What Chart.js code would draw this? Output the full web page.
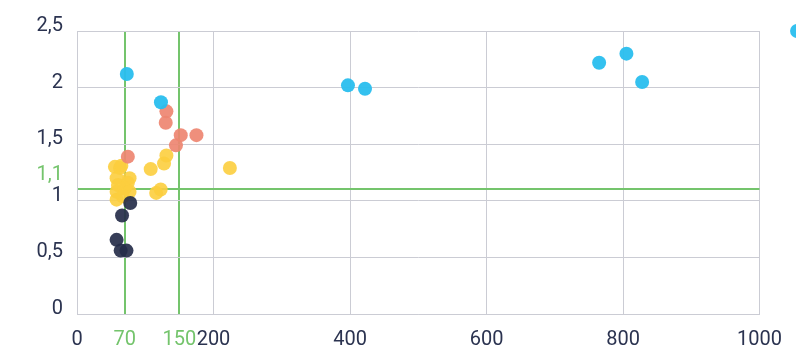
<!DOCTYPE html>
<html>
<head>
<meta charset="utf-8">
<script src="https://cdn.jsdelivr.net/npm/chart.js@4/dist/chart.umd.min.js"></script>
<style>
  html, body { margin: 0; padding: 0; background: #fff; }
  #wrap { width: 796px; height: 350px; }
</style>
</head>
<body>
<div id="wrap"><canvas id="chart"></canvas></div>
<script>
// data
const blueX = [73, 123, 397, 422, 765, 805, 828, 1055];
const blueY = [2.12, 1.87, 2.02, 1.99, 2.22, 2.30, 2.05, 2.5];
const salmonX = [131, 130, 152, 175, 145, 74.5];
const salmonY = [1.79, 1.69, 1.58, 1.58, 1.49, 1.39];
const yellowX = [224, 131, 127.5, 108, 122.6, 116, 55.5, 63, 65, 58, 77, 60, 74.5, 58, 70, 77, 58, 67];
const yellowY = [1.29, 1.40, 1.33, 1.28, 1.10, 1.07, 1.30, 1.29, 1.31, 1.20, 1.20, 1.14, 1.16, 1.08, 1.11, 1.08, 1.01, 1.04];
const navyX = [78, 66, 58, 64, 72.5];
const navyY = [0.98, 0.87, 0.655, 0.56, 0.56];

// ticks, the green ones are the thresholds
const xTickValues = [0, 70, 150, 200, 400, 600, 800, 1000];
const yTickValues = [0, 0.5, 1, 1.1, 1.5, 2, 2.5];
const greenX = [70, 150];
const greenY = [1.1];

const NAVY_TEXT = '#2b3350';
const GREEN = '#74c46c';
const GRID = '#cbccd4';
const FONT = { family: 'Roboto', size: 20 };

const toPoints = (xs, ys) => xs.map((x, i) => ({ x, y: ys[i] }));

const makeSet = (label, xs, ys, color) => ({
  label,
  data: toPoints(xs, ys),
  backgroundColor: color,
  borderWidth: 0,
  pointRadius: 7,
  pointHoverRadius: 7,
  clip: false
});

// let the points that lie past x=1000 still show (the chart area check would drop them)
const widenArea = {
  id: 'widenArea',
  beforeDatasetsDraw(chart) {
    chart._savedRight = chart.chartArea.right;
    chart.chartArea.right = chart.width + 20;
  },
  afterDatasetsDraw(chart) {
    chart.chartArea.right = chart._savedRight;
  }
};

new Chart(document.getElementById('chart'), {
  type: 'scatter',
  data: {
    datasets: [
      makeSet('blue', blueX, blueY, 'rgba(41,190,238,0.95)'),
      makeSet('salmon', salmonX, salmonY, 'rgba(238,133,113,0.92)'),
      makeSet('navy', navyX, navyY, 'rgba(38,46,74,0.92)'),
      makeSet('yellow', yellowX, yellowY, 'rgba(252,206,62,0.9)')
    ]
  },
  plugins: [widenArea],
  options: {
    responsive: true,
    maintainAspectRatio: false,
    animation: false,
    layout: { padding: { top: 31, right: 34, left: 0, bottom: 0 } },
    plugins: { legend: { display: false }, tooltip: { enabled: false } },
    scales: {
      x: {
        type: 'linear',
        min: 0,
        max: 1000,
        afterBuildTicks: scale => { scale.ticks = xTickValues.map(v => ({ value: v })); },
        afterFit: scale => { scale.height = 36; },
        border: { color: GRID, width: 1 },
        grid: {
          drawTicks: false,
          color: ctx => greenX.includes(ctx.tick && ctx.tick.value) ? GREEN : GRID,
          lineWidth: ctx => greenX.includes(ctx.tick && ctx.tick.value) ? 2 : 1
        },
        ticks: {
          autoSkip: false,
          maxRotation: 0,
          padding: 14,
          font: FONT,
          color: ctx => greenX.includes(ctx.tick.value) ? GREEN : NAVY_TEXT,
          callback: v => String(v)
        }
      },
      y: {
        type: 'linear',
        min: 0,
        max: 2.5,
        afterBuildTicks: scale => { scale.ticks = yTickValues.map(v => ({ value: v })); },
        afterFit: scale => { scale.width = 77; },
        border: { color: GRID, width: 1 },
        grid: {
          drawTicks: false,
          color: ctx => greenY.includes(ctx.tick && ctx.tick.value) ? GREEN : GRID,
          lineWidth: ctx => greenY.includes(ctx.tick && ctx.tick.value) ? 2 : 1
        },
        ticks: {
          autoSkip: false,
          padding: 14,
          labelOffset: -5,
          font: ctx => greenY.includes(ctx.tick && ctx.tick.value)
            ? { family: 'Roboto', size: 20, lineHeight: 0.9 }
            : FONT,
          color: ctx => greenY.includes(ctx.tick.value) ? GREEN : NAVY_TEXT,
          // the 1,1 label gets an empty second line so it sits above the "1"
          callback: v => greenY.includes(v)
            ? [String(v).replace('.', ','), '']
            : String(v).replace('.', ',')
        }
      }
    }
  }
});
</script>
</body>
</html>
